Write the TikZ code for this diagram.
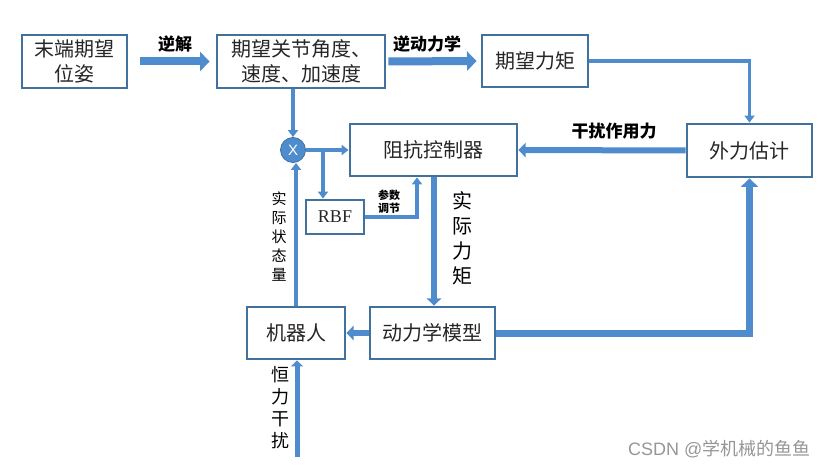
\documentclass[tikz,border=0pt]{standalone}
\usepackage{fontspec}
\newfontfamily\cjk{Noto Sans CJK SC}
\newfontfamily\rmser{Liberation Serif}
\newfontfamily\sans{Liberation Sans}
\usetikzlibrary{arrows.meta,calc}
\definecolor{bord}{RGB}{65,113,156}
\definecolor{arr}{RGB}{79,140,205}
\definecolor{wm}{RGB}{150,150,150}
\tikzset{
  box/.style={draw=bord, line width=2.8pt, fill=white, inner sep=0pt, align=center, font=\cjk\fontsize{20}{25}\selectfont, text=black!85},
  thin/.style={draw=arr, line width=3.5pt, -{Triangle[width=10pt,length=7pt]}},
  thick/.style={draw=arr, line width=#1, -{Triangle[width=0pt 2.4,length=0pt 1.2]}},
  lab/.style={font=\cjk\bfseries\fontsize{17}{19}\selectfont, text=black},
  vlabA/.style={font=\cjk\fontsize{18}{22}\selectfont, align=center, text width=20pt, inner sep=0pt},
  vlabC/.style={font=\cjk\fontsize{20}{25}\selectfont, align=center, text width=20pt, inner sep=0pt},
  vlabB/.style={font=\cjk\fontsize{15}{19}\selectfont, align=center, text width=15pt, inner sep=0pt},
}
\begin{document}
\begin{tikzpicture}[x=1pt,y=-1pt]
\useasboundingbox (0,0) rectangle (830,468);
\node[box, minimum width=105pt, minimum height=53pt] (A) at (74.5,61.5) {末端期望\\位姿};
\node[box, minimum width=168pt, minimum height=53pt] (B) at (301,61.5) {期望关节角度、\\速度、加速度};
\node[box, minimum width=106pt, minimum height=52pt] (C) at (535,61) {期望力矩};
\node[box, minimum width=125pt, minimum height=53pt] (D) at (749.5,150.5) {外力估计};
\node[box, minimum width=167pt, minimum height=52pt] (E) at (433.5,150) {阻抗控制器};
\node[circle, fill=arr, draw=arr!80!black, line width=0.8pt, minimum size=25pt, inner sep=0pt, text=white, font=\sans\fontsize{15}{15}\selectfont] (X) at (293,150) {X};
\node[box, minimum width=58pt, minimum height=34pt, font=\rmser\fontsize{18}{20}\selectfont] (F) at (335,217) {RBF};
\node[box, minimum width=125pt, minimum height=52pt] (G) at (432.5,333) {动力学模型};
\node[box, minimum width=98pt, minimum height=52pt] (H) at (296,333) {机器人};
\coordinate (dist) at (297,457);
\coordinate (br) at (323,150);
\coordinate (up) at (417,176);
\coordinate (tq) at (434,176);

% top row
\draw[thick=8pt] ($(A.east)+(12,0)$) -- ($(B.west)+(-6,0)$);
\node[lab] (l1) at (175,44) {逆解};
\draw[thick=8pt] ($(B.east)+(2,0)$) -- ($(C.west)+(-4,0)$);
\node[lab] (l2) at (427,44) {逆动力学};
\draw[thin] (C.east) -| (D.north);
% disturbance force
\draw[thick=6pt] (D.west) -- (E.east);
\node[lab] (l3) at (614,131) {干扰作用力};
% summing
\draw[thin] (X |- B.south) -- (X.north);
\draw[thin] (X.east) -- (E.west);
\draw[thin] (br) -- (br |- F.north);
\draw[thin] (F.east) -| (up |- E.south);
\node[font=\cjk\bfseries\fontsize{11}{13}\selectfont, align=center] (l4) at (389,202) {参数\\调节};
% actual torque
\draw[thick=6pt] (tq |- E.south) -- (tq |- G.north);
\node[vlabC] (l5) at (462,238) {实\\际\\力\\矩};
% dynamics to robot
\draw[thick=6pt] (G.west) -- (H.east);
% robot to summing
\draw[thin] (H.north) -- (H.north |- X.south);
\node[vlabB] (l6) at (279,237) {实\\际\\状\\态\\量};
% constant disturbance
\draw[thick=5pt] (dist) -- (dist |- H.south);
\node[vlabA] (l7) at (280,408) {恒\\力\\干\\扰};
% dynamics to estimator
\draw[thick=7pt] (G.east) -| (D.south);
\node[font=\sans\fontsize{18}{20}\selectfont, text=wm, anchor=east] (wmk) at (814,449) {CSDN @{\cjk 学机械的鱼鱼}};
\end{tikzpicture}
\end{document}
